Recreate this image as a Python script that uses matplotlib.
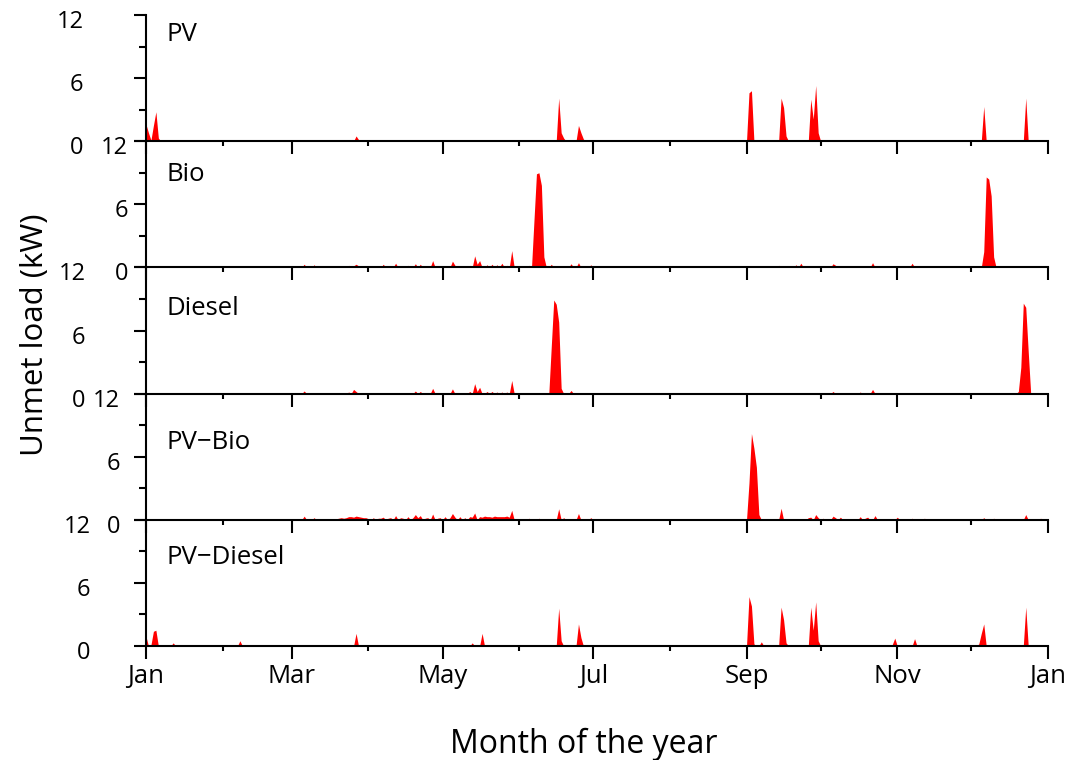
import numpy as np
import matplotlib
matplotlib.use("Agg")
import matplotlib.pyplot as plt
from matplotlib import transforms

plt.rcParams["font.family"] = ["Open Sans", "DejaVu Sans"]

# ---- data: unmet load (kW) on given days of the year (day 0 = 1 Jan) ----
pv_days = [0, 1, 2, 3, 4, 5, 64, 85, 86, 111, 116, 136, 138, 140, 142, 148,
           167, 168, 169, 175, 176, 177, 244, 245, 257, 258, 259,
           269, 270, 271, 272, 289, 294, 339, 356]
pv_kw = [1.6, 0.8, 0.1, 1.5, 2.8, 0.3, 0.1, 0.5, 0.15, 0.08, 0.08, 0.1, 0.12, 0.1, 0.15, 0.15,
         4.1, 0.8, 0.3, 1.5, 0.8, 0.2, 4.6, 4.8, 4.1, 3.2, 0.5,
         4.0, 2.1, 5.3, 0.8, 0.1, 0.15, 3.3, 4.1]

bio_days = [64, 68, 76, 79, 82, 84, 85, 86, 89, 96, 101, 106, 109, 111, 116, 121, 124, 125,
            131, 133, 134, 135, 138, 140, 142, 144, 146, 148, 155,
            157, 158, 159, 160, 161,
            164, 169, 172, 175, 180, 244, 247, 252, 254, 256, 258, 263, 265, 272, 274,
            278, 279, 281, 289, 292, 294, 298, 303, 310, 315, 333,
            339, 340, 341, 342, 343, 356, 358, 362]
bio_kw = [0.3, 0.25, 0.1, 0.15, 0.2, 0.15, 0.3, 0.15, 0.1, 0.3, 0.4, 0.2, 0.35, 0.3, 0.65, 0.15, 0.6, 0.2,
          0.2, 1.1, 0.3, 0.65, 0.25, 0.3, 0.25, 0.4, 0.2, 1.6, 0.2,
          4.5, 8.9, 9.0, 7.8, 1.0,
          0.3, 0.1, 0.35, 0.45, 0.25, 0.1, 0.05, 0.05, 0.1, 0.2, 0.1, 0.25, 0.4, 0.1, 0.1,
          0.35, 0.2, 0.15, 0.1, 0.15, 0.45, 0.1, 0.1, 0.4, 0.05, 0.05,
          1.5, 8.6, 8.4, 6.8, 1.0, 0.1, 0.1, 0.05]

diesel_days = [64, 68, 80, 82, 84, 85, 87, 91, 101, 106, 109, 111, 116, 121, 124,
               131, 133, 134, 135, 138, 140, 142, 144, 146, 148,
               164, 165, 166, 167, 168,
               170, 172, 175, 180, 258, 278, 281, 289, 292, 294, 343,
               353, 354, 355, 356, 357]
diesel_kw = [0.25, 0.05, 0.1, 0.15, 0.4, 0.2, 0.1, 0.1, 0.1, 0.1, 0.25, 0.2, 0.5, 0.1, 0.45,
             0.2, 0.95, 0.2, 0.6, 0.2, 0.2, 0.15, 0.15, 0.15, 1.25,
             4.5, 8.9, 8.5, 6.8, 0.5,
             0.1, 0.3, 0.1, 0.05, 0.05, 0.2, 0.05, 0.15, 0.1, 0.4, 0.05,
             0.2, 2.5, 8.6, 8.2, 4.0]

pvbio_days = [11, 46, 59, 64, 68, 76, 77, 78, 79, 80, 81, 82, 83, 84, 85, 86, 87, 88, 89, 90,
              92, 94, 95, 96, 98, 99, 101, 103, 104, 106, 108, 109, 110, 111, 113,
              114, 116, 118, 119, 121, 123, 124, 125, 127, 129, 131, 132, 133, 135, 136,
              137, 138, 139, 140, 141, 142, 143, 144, 145, 146, 147, 148, 152, 155,
              159, 162, 167, 169, 175, 180,
              244, 245, 246, 247, 248,
              253, 255, 257, 262, 264, 266, 268, 269, 271, 272, 274, 276, 278, 279, 281,
              286, 289, 291, 292, 295, 298,
              304, 307, 310, 315, 322, 333, 339, 343, 348, 356, 362]
pvbio_kw = [0.05, 0.1, 0.1, 0.35, 0.2, 0.1, 0.1, 0.15, 0.2, 0.15, 0.2, 0.3, 0.3, 0.25, 0.35, 0.3, 0.25, 0.2, 0.2, 0.1,
            0.2, 0.15, 0.15, 0.25, 0.15, 0.2, 0.4, 0.2, 0.15, 0.3, 0.2, 0.5, 0.2, 0.4, 0.15,
            0.2, 0.55, 0.15, 0.2, 0.3, 0.2, 0.6, 0.25, 0.3, 0.2, 0.3, 0.25, 0.65, 0.3, 0.25,
            0.35, 0.3, 0.3, 0.25, 0.35, 0.3, 0.3, 0.3, 0.3, 0.35, 0.25, 0.9, 0.1, 0.15,
            0.15, 0.1, 1.05, 0.2, 0.6, 0.2,
            3.5, 8.2, 6.8, 5.0, 0.5,
            0.05, 0.05, 1.1, 0.1, 0.1, 0.1, 0.2, 0.25, 0.5, 0.2, 0.15, 0.1, 0.35, 0.2, 0.25,
            0.1, 0.3, 0.15, 0.25, 0.4, 0.1,
            0.25, 0.1, 0.15, 0.15, 0.05, 0.1, 0.2, 0.15, 0.1, 0.5, 0.15]

pvdiesel_days = [0, 2, 3, 4, 11, 14, 38, 85, 132, 136, 148, 167, 168, 175, 176,
                 244, 245, 246, 249, 257, 258, 259, 263, 269, 270, 271, 272,
                 302, 303, 311, 337, 338, 339, 356]
pvdiesel_kw = [0.9, 0.1, 1.4, 1.5, 0.3, 0.05, 0.5, 1.2, 0.3, 1.2, 0.05, 3.6, 0.5, 2.1, 0.8,
               4.7, 3.8, 0.2, 0.4, 3.7, 2.5, 0.3, 0.05, 3.7, 1.5, 4.2, 0.5,
               0.15, 0.75, 0.7, 0.2, 1.2, 2.1, 3.7]

system_names = ["PV", "Bio", "Diesel", "PV\u2212Bio", "PV\u2212Diesel"]

month_starts = [0, 31, 59, 90, 120, 151, 181, 212, 243, 273, 304, 334, 365]
month_labels = ["Jan", "Mar", "May", "Jul", "Sep", "Nov", "Jan"]


def daily_series(days, kw, n_days=366):
    load = np.zeros(n_days)
    load[np.asarray(days)] = kw
    return load


series = [
    daily_series(pv_days, pv_kw),
    daily_series(bio_days, bio_kw),
    daily_series(diesel_days, diesel_kw),
    daily_series(pvbio_days, pvbio_kw),
    daily_series(pvdiesel_days, pvdiesel_kw),
]
day_axis = np.arange(366)

# ---- figure ----
W, H = 1069, 760
fig, axes = plt.subplots(5, 1, sharex=True, figsize=(W / 100, H / 100), dpi=100,
                         gridspec_kw=dict(hspace=0))
fig.subplots_adjust(left=146 / W, right=1048 / W, top=1 - 15 / H, bottom=1 - 646 / H)

label_pads = [36, 4, 34.5, 9.5, 31]
label_baselines = [0.794, 0.683, 0.62, 0.564, 0.651]
tick_shift = transforms.ScaledTranslation(0, -4 / 100, fig.dpi_scale_trans)

for ax, load, name, pad, yb in zip(axes, series, system_names, label_pads, label_baselines):
    ax.patch.set_visible(False)
    ax.fill_between(day_axis, 0, load, color="#ff0000", linewidth=0)
    ax.set_xlim(0, 365)
    ax.set_ylim(0, 12)
    ax.set_yticks([0, 6, 12])
    ax.set_yticks([3, 9], minor=True)
    ax.set_xticks(month_starts[::2])
    ax.set_xticks(month_starts[1::2], minor=True)
    for side in ("top", "right"):
        ax.spines[side].set_visible(False)
    for side in ("left", "bottom"):
        ax.spines[side].set_linewidth(1.5)
    ax.tick_params(axis="both", which="major", direction="out", length=9, width=1.5,
                   colors="black")
    ax.tick_params(axis="y", which="minor", direction="out", length=5, width=1.5)
    ax.tick_params(axis="x", which="minor", direction="out", length=3.6, width=1.5)
    ax.tick_params(axis="y", which="major", labelsize=17, pad=pad)
    for lab in ax.get_yticklabels():
        lab.set_transform(lab.get_transform() + tick_shift)
    ax.text(0.023, yb, name, transform=ax.transAxes, fontsize=18.5, va="baseline", ha="left")

axes[-1].set_xticklabels(month_labels)
axes[-1].tick_params(axis="x", which="major", labelsize=18.5, pad=4)

fig.text(35 / W, 1 - 335 / H, "Unmet load (kW)", rotation=90, fontsize=22.5,
         ha="center", va="center")
fig.text(584 / W, 1 - 753 / H, "Month of the year", fontsize=23,
         ha="center", va="baseline")

fig.savefig("out.png", dpi=100)
